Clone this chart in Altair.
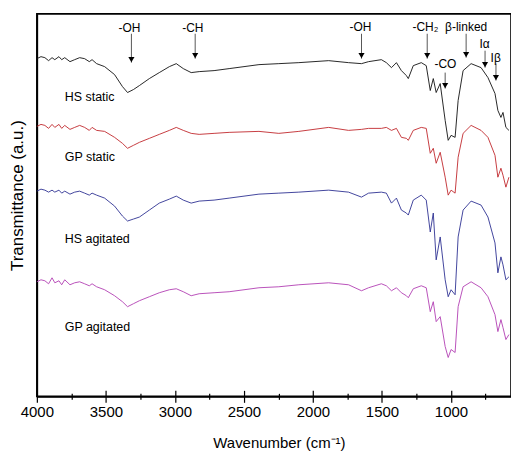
import altair as alt
import pandas as pd

# ---- data ----
wavenumber = [4000, 3970, 3942, 3915, 3890, 3870, 3840, 3820, 3798, 3760,
              3726, 3690, 3654, 3620, 3600, 3567, 3509,
              3437, 3380, 3343, 3300, 3257, 3185, 3113, 3040, 2990, 2939,
              2882, 2824, 2716, 2607, 2391, 2247, 2102, 1886, 1742, 1648,
              1597, 1504, 1468, 1431, 1395, 1359, 1323, 1309, 1273, 1215,
              1179, 1150, 1128, 1107, 1078, 1042, 1020, 999, 970, 948,
              912, 854, 782, 732, 681, 660, 638, 623, 602, 580]

hs_static = [339, 341, 340, 337, 340, 338, 341, 338, 340, 336,
             338, 340, 339, 336, 338, 334, 331,
             323, 311, 305, 308, 312, 319, 325, 331, 334, 329,
             325, 326, 327, 329, 333, 334, 335, 337, 335, 334,
             336, 338, 335, 330, 335, 327, 322, 319, 332, 335,
             332, 307, 319, 305, 314, 277, 257, 262, 260, 297,
             327, 334, 330, 320, 304, 287, 280, 285, 270, 267]

gp_static = [271, 273, 272, 269, 273, 270, 273, 269, 272, 268,
             270, 272, 270, 267, 270, 267, 266,
             260, 254, 249, 252, 255, 259, 263, 267, 270, 267,
             264, 263, 264, 265, 266, 264, 266, 270, 267, 268,
             269, 269, 270, 267, 269, 260, 259, 257, 267, 270,
             269, 244, 249, 234, 245, 220, 202, 207, 204, 240,
             264, 272, 267, 260, 242, 220, 229, 222, 210, 220]

hs_agitated = [206, 208, 207, 205, 207, 205, 207, 204, 206, 203,
               205, 206, 204, 202, 204, 202, 199,
               191, 181, 176, 178, 180, 187, 194, 198, 201, 197,
               194, 196, 197, 199, 203, 204, 205, 207, 205, 200,
               204, 205, 204, 194, 199, 187, 184, 182, 197, 202,
               197, 165, 184, 137, 160, 117, 100, 107, 102, 160,
               187, 196, 192, 180, 154, 124, 140, 132, 117, 120]

gp_agitated = [115, 117, 116, 113, 119, 114, 116, 112, 117, 112,
               114, 115, 113, 111, 113, 110, 107,
               101, 95, 90, 93, 96, 100, 104, 107, 108, 105,
               101, 103, 104, 105, 109, 110, 112, 114, 112, 106,
               109, 113, 111, 106, 109, 104, 101, 99, 108, 111,
               109, 85, 95, 75, 80, 50, 39, 47, 44, 90,
               110, 115, 109, 100, 82, 65, 77, 69, 57, 62]

series_names = ["HS static", "GP static", "HS agitated", "GP agitated"]
series_colors = ["#111111", "#c0282d", "#2e3192", "#b23fb3"]
label_wn = [3798, 3798, 3798, 3798]
label_y = [300, 240, 158, 70]

ann_text = ["-OH", "-CH", "-OH", "-CH\u2082", "\u03b2-linked", "-CO", "I\u03b1", "I\u03b2"]
ann_wn = [3315, 2853, 1648, 1172, 890, 1042, 753, 674]
ann_text_wn = [3330, 2870, 1655, 1185, 890, 1040, 757, 676]
ann_text_y = [370, 370, 371, 371, 371, 334, 354, 340]
ann_top = [364, 364, 364, 364, 364, 325, 347, 334]
ann_tip = [335, 339, 339, 339, 340, 309, 330, 317]

# ---- tables ----
rows = []
for name, vals in zip(series_names, [hs_static, gp_static, hs_agitated, gp_agitated]):
    for w, v in zip(wavenumber, vals):
        rows.append({"wn": w, "T": v, "series": name})
df = pd.DataFrame(rows)

lab = pd.DataFrame({"wn": label_wn, "T": label_y, "series": series_names})
ann = pd.DataFrame({"text": ann_text, "wn": ann_wn, "twn": ann_text_wn,
                    "ty": ann_text_y, "top": ann_top, "tip": ann_tip})

FONT = "Liberation Sans"
xscale = alt.Scale(domain=[565, 4000], reverse=True, nice=False, zero=False)
yscale = alt.Scale(domain=[0, 384], nice=False, zero=False)
cscale = alt.Scale(domain=series_names, range=series_colors)
tick_vals = list(range(4000, 600, -250))
major = "datum.value % 500 === 0"

x_bottom = alt.Axis(values=tick_vals, format="d",
                    labelExpr=f"{major} ? datum.label : ''",
                    labelOverlap=False, labelFont=FONT, labelFontSize=15, labelColor="#000",
                    labelPadding=2, labelFlush=False,
                    tickSize={"condition": {"test": major, "value": 6}, "value": 3},
                    tickColor="#000", tickWidth=1.2, domainColor="#000", domainWidth=1.6,
                    grid=False, title="Wavenumber (cm\u207b\u00b9)", titleFont=FONT,
                    titleFontSize=15, titleFontWeight="normal", titleColor="#000",
                    titleX=243, titleY=46, titleBaseline="middle", titleAlign="center")

x_inner = alt.Axis(orient="top", offset=-384, values=tick_vals, labels=False, domain=False,
                   tickSize={"condition": {"test": major, "value": 6}, "value": 3},
                   tickColor="#000", tickWidth=1.2, grid=False, title=None)

y_axis = alt.Axis(labels=False, ticks=False, grid=False, domain=True,
                  domainColor="#000", domainWidth=1.6,
                  title="Transmittance (a.u.)", titleFont=FONT, titleFontSize=17,
                  titleFontWeight="normal", titleColor="#000", titleAngle=270,
                  titleX=-19, titleY=182, titleBaseline="middle", titleAlign="center")

lines = alt.Chart(df).mark_line(strokeWidth=0.9).encode(
    x=alt.X("wn:Q", scale=xscale, axis=x_bottom),
    y=alt.Y("T:Q", scale=yscale, axis=y_axis),
    color=alt.Color("series:N", scale=cscale, legend=None),
    detail="series:N",
)

labels = alt.Chart(lab).mark_text(align="left", baseline="middle", font=FONT,
                                  fontSize=12.5, color="#000").encode(
    x=alt.X("wn:Q", scale=xscale, axis=x_inner),
    y=alt.Y("T:Q", scale=yscale),
    text="series:N",
)

rules = alt.Chart(ann).mark_rule(color="#444", strokeWidth=0.9).encode(
    x=alt.X("wn:Q", scale=xscale, axis=None),
    y=alt.Y("top:Q", scale=yscale),
    y2="tip:Q",
)

heads = alt.Chart(ann).mark_point(shape="triangle-down", filled=True, size=38,
                                  color="#000", opacity=1, yOffset=-3).encode(
    x=alt.X("wn:Q", scale=xscale, axis=None),
    y=alt.Y("tip:Q", scale=yscale),
)

texts = alt.Chart(ann).mark_text(align="center", baseline="middle", font=FONT,
                                 fontSize=12, color="#000").encode(
    x=alt.X("twn:Q", scale=xscale, axis=None),
    y=alt.Y("ty:Q", scale=yscale),
    text="text:N",
)

chart = alt.layer(lines, labels, rules, heads, texts).resolve_axis(
    x="independent"
).properties(
    width=476, height=384,
    padding={"left": 37, "top": 13, "right": 0, "bottom": 58},
    autosize="none",
).configure(
    background="white",
    view=alt.ViewConfig(stroke="#000", strokeWidth=1.6),
)

chart.save("out.html", embed_options={"renderer": "svg", "actions": False})
